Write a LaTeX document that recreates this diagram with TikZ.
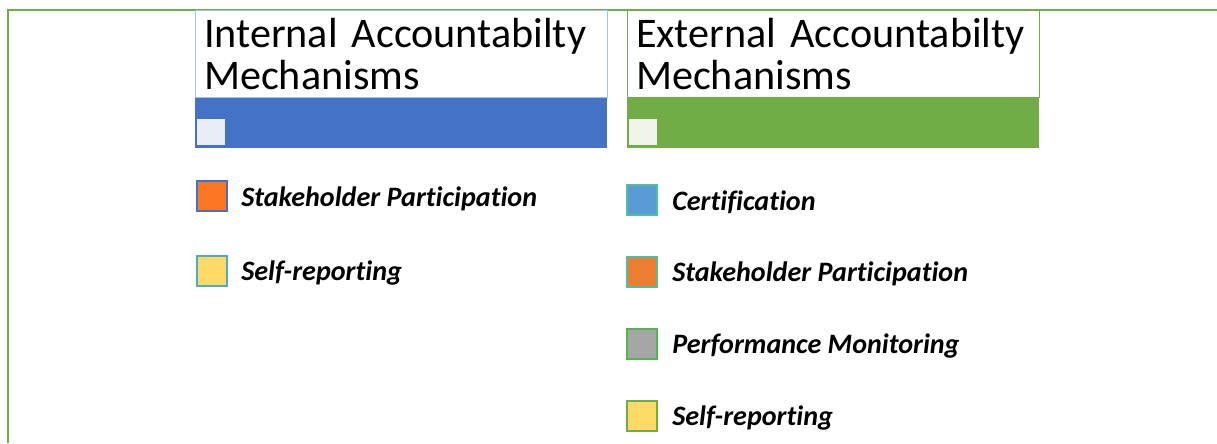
\documentclass[tikz,border=0pt]{standalone}
\usepackage{fontspec}
\setmainfont{Carlito}[Ligatures=NoCommon]
\usetikzlibrary{positioning}
\definecolor{intblue}{RGB}{68,114,196}
\definecolor{extgreen}{RGB}{112,173,71}
\definecolor{paleblue}{RGB}{157,195,230}
\definecolor{tickblue}{RGB}{233,237,246}
\definecolor{tickgreen}{RGB}{240,245,236}
\definecolor{sworange}{RGB}{252,118,36}
\definecolor{swamber}{RGB}{237,125,49}
\definecolor{swyellow}{RGB}{255,217,102}
\definecolor{swsky}{RGB}{91,155,213}
\definecolor{swgray}{RGB}{165,165,165}
\definecolor{edgeteal}{RGB}{75,172,198}
\definecolor{edgemint}{RGB}{80,190,160}
\definecolor{edgegreen}{RGB}{85,180,80}
\newcommand\headfont{\fontsize{24}{24}\selectfont\spaceskip=0.14em plus 0.05em\relax}
\tikzset{
  frame/.style={draw=extgreen, line width=1.7pt},
  headbox/.style={rectangle, fill=white, line width=0.6pt, anchor=north west,
                  minimum width=8.24cm, minimum height=1.72cm, text width=7.9cm,
                  inner sep=0.15cm, align=left, font=\headfont},
  bar/.style={rectangle, anchor=north west, minimum width=8.24cm, minimum height=1cm, inner sep=0pt},
  tick/.style={rectangle, anchor=south west, minimum width=0.56cm, minimum height=0.52cm, inner sep=0pt},
  swatch/.style={rectangle, line width=1.1pt, minimum size=0.6cm, inner sep=0pt},
  item/.style={font=\fontsize{16}{18}\selectfont\bfseries\itshape, inner sep=0pt, anchor=base west},
}
\begin{document}
\begin{tikzpicture}[x=0.02cm, y=-0.02cm, node distance=0.8cm]
\useasboundingbox (0,0) rectangle (1217,443);
\draw[frame] (8,443) -- (8,10) -- (1217,10);

% column headers
\node[headbox, draw=paleblue] (inthead) at (195,10) {Internal Accountabilty\\Mechanisms};
\node[bar, fill=intblue] (intbar) at (inthead.south west) {};
\node[tick, fill=tickblue] at ([shift={(0.03cm,0.06cm)}]intbar.south west) {};

\node[headbox, draw=extgreen] (exthead) at (627,10) {External Accountabilty\\Mechanisms};
\node[bar, fill=extgreen] (extbar) at (exthead.south west) {};
\node[tick, fill=tickgreen] at ([shift={(0.03cm,0.06cm)}]extbar.south west) {};

% internal legend
\node[swatch, fill=sworange, draw=intblue] (intsp) at (212,196) {};
\node[swatch, fill=swyellow, draw=edgeteal, below=0.86cm of intsp] (intsr) {};
\foreach \s/\t in {intsp/Stakeholder Participation, intsr/Self-reporting}
  \node[item] at ([shift={(0.26cm,-0.2cm)}]\s.east) {\t};

% external legend
\node[swatch, fill=swsky, draw=edgemint] (extcert) at (642,200) {};
\node[swatch, fill=swamber, draw=edgemint, below=of extcert] (extsp) {};
\node[swatch, fill=swgray, draw=edgegreen, below=of extsp] (extpm) {};
\node[swatch, fill=swyellow, draw=extgreen, below=of extpm] (extsr) {};
\foreach \s/\t in {extcert/Certification, extsp/Stakeholder Participation,
                   extpm/Performance Monitoring, extsr/Self-reporting}
  \node[item] at ([shift={(0.28cm,-0.2cm)}]\s.east) {\t};
\end{tikzpicture}
\end{document}
